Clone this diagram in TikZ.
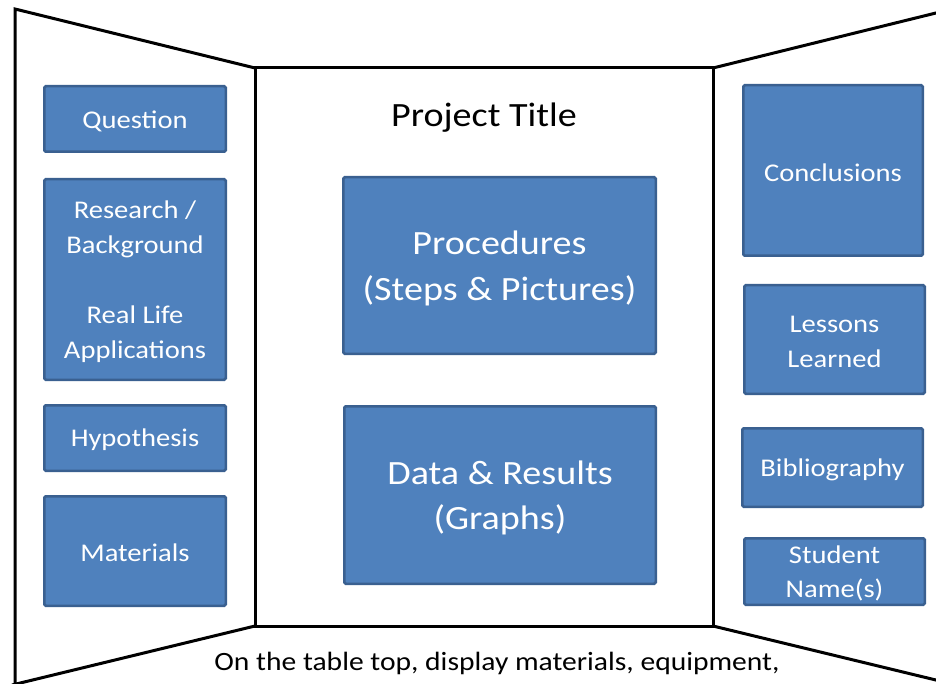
\documentclass[tikz,border=0pt]{standalone}
\usepackage{fontspec}
\setmainfont{Carlito}[FakeStretch=1.12]
\definecolor{boxfill}{HTML}{4F81BD}
\definecolor{boxline}{HTML}{3A6090}
\tikzset{
  panel/.style={line width=3pt, line join=miter},
  bluebox/.style={rectangle, fill=boxfill, draw=boxline, line width=2.5pt, rounded corners=1.5pt, inner sep=0pt},
  boxtext/.style={text=white, align=center, inner sep=0pt},
  smalltxt/.style={boxtext, font=\fontsize{25.5}{35}\selectfont},
  bigtxt/.style={boxtext, font=\fontsize{34}{45.5}\selectfont},
}
\begin{document}
\begin{tikzpicture}[x=1pt,y=-1pt]
\useasboundingbox (0,0) rectangle (936,684);
\clip (0,0) rectangle (936,684);
% side panels
\draw[panel] (15,690) -- (15,9) -- (255,68);
\draw[panel] (255,626) -- (12,685);
\draw[panel] (713,68) -- (940,12);
\draw[panel] (713,626) -- (940,681);
% centre panel
\node[draw, panel, rectangle, minimum width=458pt, minimum height=558pt, inner sep=0pt] (centre) at (484,347) {};
% title and bottom text
\node[anchor=base, font=\fontsize{34}{40}\selectfont, inner sep=0pt] (title) at (484,127) {Project Title};
\node[anchor=base, font=\fontsize{26.4}{30}\selectfont, inner sep=0pt] (table) at (497,670.5) {On the table top, display materials, equipment,};
% left boxes
\node[bluebox, minimum width=181.5pt, minimum height=65.5pt] (question) at (135,119) {};
\node[bluebox, minimum width=181.5pt, minimum height=200.5pt] (research) at (135,279.5) {};
\node[bluebox, minimum width=181.5pt, minimum height=65.5pt] (hypothesis) at (135,438) {};
\node[bluebox, minimum width=181.5pt, minimum height=109.5pt] (materials) at (135,551) {};
\node[smalltxt] (question-t) at ([yshift=-2pt]question.center) {Question};
\node[smalltxt] (research-t) at ([yshift=-2pt]research.center) {Research /\\Background\\[35pt]Real Life\\Applications};
\node[smalltxt] (hypothesis-t) at ([yshift=-2pt]hypothesis.center) {Hypothesis};
\node[smalltxt] (materials-t) at ([yshift=-2pt]materials.center) {Materials};
% centre boxes
\node[bluebox, minimum width=312.5pt, minimum height=176.5pt] (procedures) at (499.5,265.5) {};
\node[bluebox, minimum width=311.5pt, minimum height=177.5pt] (data) at (500,495) {};
\node[bigtxt] (procedures-t) at ([yshift=-3pt]procedures.center) {Procedures\\(Steps \& Pictures)};
\node[bigtxt] (data-t) at ([yshift=-3pt]data.center) {Data \& Results\\(Graphs)};
% right boxes
\node[bluebox, minimum width=179.5pt, minimum height=170.5pt] (conclusions) at (833,170.5) {};
\node[bluebox, minimum width=180.5pt, minimum height=108.5pt] (lessons) at (834.5,339.5) {};
\node[bluebox, minimum width=180.5pt, minimum height=78.5pt] (biblio) at (832.5,467.5) {};
\node[bluebox, minimum width=180.5pt, minimum height=66.5pt] (student) at (834.5,571.5) {};
\node[smalltxt] (conclusions-t) at ([yshift=-2pt]conclusions.center) {Conclusions};
\node[smalltxt] (lessons-t) at ([yshift=-2pt]lessons.center) {Lessons\\Learned};
\node[smalltxt] (biblio-t) at ([yshift=-2pt]biblio.center) {Bibliography};
\node[smalltxt, font=\fontsize{25.5}{34}\selectfont] (student-t) at ([yshift=-2pt]student.center) {Student\\Name(s)};
\end{tikzpicture}
\end{document}
